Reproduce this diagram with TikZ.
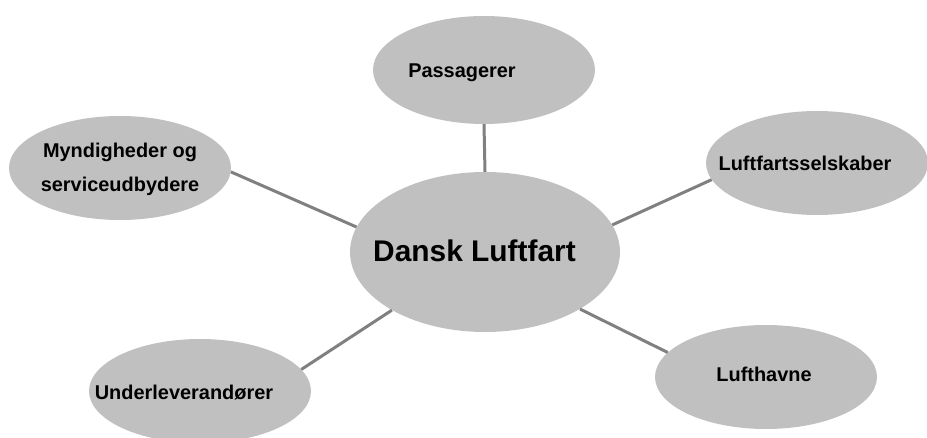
\documentclass[tikz,border=0pt]{standalone}
\usepackage{fontspec}
\setmainfont{Liberation Sans}
\usetikzlibrary{shapes.geometric}
\definecolor{bubble}{HTML}{C0C0C0}
\definecolor{link}{HTML}{808080}
\tikzset{
  bubble/.style={ellipse, fill=bubble, draw=none, inner sep=0pt, minimum width=222bp, minimum height=104bp},
  hub/.style={ellipse, fill=bubble, draw=none, inner sep=0pt, minimum width=270bp, minimum height=160bp},
  lbl/.style={inner sep=0pt, font=\bfseries\fontsize{20}{34}\selectfont, align=center},
  hublbl/.style={inner sep=0pt, font=\bfseries\fontsize{30}{36}\selectfont},
  conn/.style={draw=link, line width=3bp}
}
\begin{document}
\begin{tikzpicture}[x=1bp,y=-1bp]
\useasboundingbox (0,0) rectangle (927,438);
\node[hub] (c) at (485,252) {};
\node[bubble, minimum height=108bp] (p) at (484,70) {};
\node[bubble] (m) at (120,168) {};
\node[bubble] (l) at (817,163) {};
\node[bubble] (h) at (766,377) {};
\node[bubble] (u) at (200,391) {};
\draw[conn] (p.south) -- (c.north);
\draw[conn] (m.-2.6) -- (c.169.5);
\draw[conn] (l.189.2) -- (c.12.2);
\draw[conn] (h.166) -- (c.-31.7);
\draw[conn] (u.12.5) -- (c.-148.1);
\node[hublbl, anchor=base] (ct) at (474.5,262) {Dansk Luftfart};
\node[lbl, anchor=base] (pt) at (462,78) {Passagerer};
\node[lbl] (mt) at (120,169) {Myndigheder og\\serviceudbydere};
\node[lbl, anchor=base] (lt) at (805,171) {Luftfartsselskaber};
\node[lbl, anchor=base] (ht) at (764,382) {Lufthavne};
\node[lbl, anchor=base] (ut) at (184,399) {Underleverandører};
\end{tikzpicture}
\end{document}
